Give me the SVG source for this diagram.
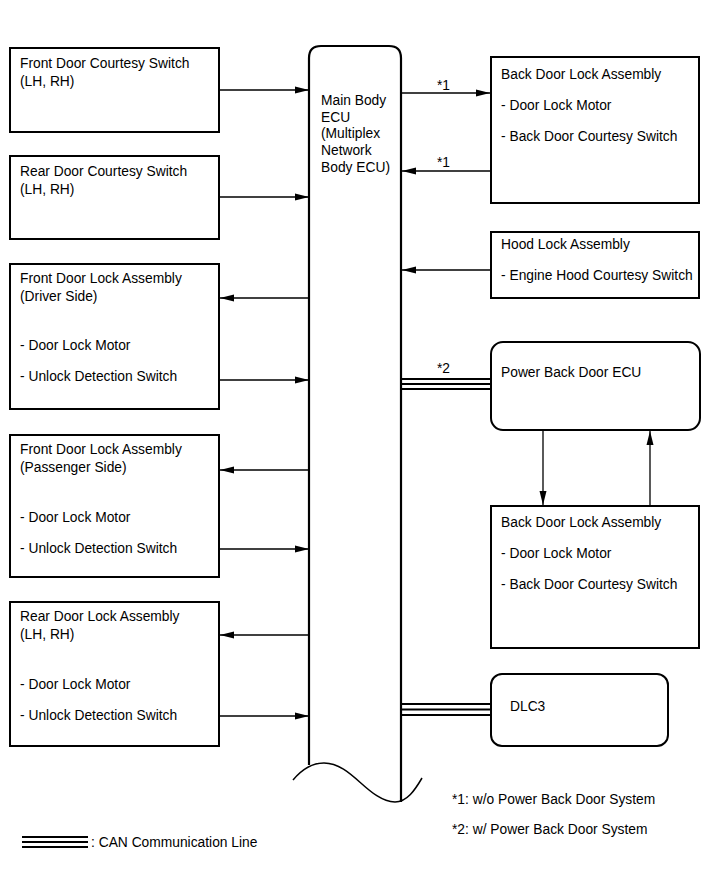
<svg xmlns="http://www.w3.org/2000/svg" width="713" height="882" viewBox="0 0 713 882">
<defs>
<marker id="ah" markerWidth="14" markerHeight="8" refX="14" refY="4" orient="auto" markerUnits="userSpaceOnUse">
<path d="M0,0.5 L14,4 L0,7.5 Z" fill="#000"/>
</marker>
<style>
text{font-family:"Liberation Sans",Arial,sans-serif;font-size:13.8px;fill:#000}
.box{fill:#fff;stroke:#000;stroke-width:2}
.ar{stroke:#000;stroke-width:1.3;fill:none;marker-end:url(#ah)}
.can{stroke:#000;stroke-width:2;fill:none}
</style>
</defs>
<rect width="713" height="882" fill="#fff"/>

<g id="ecu">
<path d="M309,765 L309,58 Q309,46 321,46 L389,46 Q401,46 401,58 L401,802" fill="#fff" stroke="#000" stroke-width="2.2"/>
<path d="M293,780 C303,768 313,763 324,763 C352,763 368,801 395,802 C407,802 415,790 422,778" fill="none" stroke="#000" stroke-width="1.5"/>
<text x="321" y="105">Main Body</text>
<text x="321" y="122">ECU</text>
<text x="321" y="138">(Multiplex</text>
<text x="321" y="155">Network</text>
<text x="321" y="172">Body ECU)</text>
</g>

<g id="fdcs">
<rect class="box" x="10" y="48" width="209" height="84"/>
<text x="20" y="68">Front Door Courtesy Switch</text>
<text x="20" y="86">(LH, RH)</text>
</g>
<g id="rdcs">
<rect class="box" x="10" y="156" width="209" height="83"/>
<text x="20" y="176">Rear Door Courtesy Switch</text>
<text x="20" y="194">(LH, RH)</text>
</g>
<g id="fdla-d">
<rect class="box" x="10" y="264" width="209" height="145"/>
<text x="20" y="283">Front Door Lock Assembly</text>
<text x="20" y="301">(Driver Side)</text>
<text x="20" y="350">- Door Lock Motor</text>
<text x="20" y="381">- Unlock Detection Switch</text>
</g>
<g id="fdla-p">
<rect class="box" x="10" y="435" width="209" height="142"/>
<text x="20" y="454">Front Door Lock Assembly</text>
<text x="20" y="472">(Passenger Side)</text>
<text x="20" y="522">- Door Lock Motor</text>
<text x="20" y="553">- Unlock Detection Switch</text>
</g>
<g id="rdla">
<rect class="box" x="10" y="602" width="209" height="144"/>
<text x="20" y="621">Rear Door Lock Assembly</text>
<text x="20" y="639">(LH, RH)</text>
<text x="20" y="689">- Door Lock Motor</text>
<text x="20" y="720">- Unlock Detection Switch</text>
</g>

<g id="bdla1">
<rect class="box" x="491" y="57" width="208" height="146"/>
<text x="501" y="79">Back Door Lock Assembly</text>
<text x="501" y="110">- Door Lock Motor</text>
<text x="501" y="141">- Back Door Courtesy Switch</text>
</g>
<g id="hla">
<rect class="box" x="491" y="232" width="208" height="66"/>
<text x="501" y="249">Hood Lock Assembly</text>
<text x="501" y="280">- Engine Hood Courtesy Switch</text>
</g>
<g id="pbdecu">
<rect class="box" x="491" y="342" width="209" height="88" rx="12" ry="12"/>
<text x="501" y="377">Power Back Door ECU</text>
</g>
<g id="bdla2">
<rect class="box" x="491" y="506" width="208" height="142"/>
<text x="501" y="527">Back Door Lock Assembly</text>
<text x="501" y="558">- Door Lock Motor</text>
<text x="501" y="589">- Back Door Courtesy Switch</text>
</g>
<g id="dlc3">
<rect class="box" x="491" y="674" width="177" height="72" rx="11" ry="11"/>
<text x="510" y="711">DLC3</text>
</g>

<g id="connectors">
<line class="ar" x1="219" y1="90" x2="309" y2="90"/>
<line class="ar" x1="219" y1="197" x2="309" y2="197"/>
<line class="ar" x1="309" y1="298" x2="220" y2="298"/>
<line class="ar" x1="219" y1="380" x2="309" y2="380"/>
<line class="ar" x1="309" y1="470" x2="220" y2="470"/>
<line class="ar" x1="219" y1="549" x2="309" y2="549"/>
<line class="ar" x1="309" y1="635" x2="220" y2="635"/>
<line class="ar" x1="219" y1="716" x2="309" y2="716"/>
<line class="ar" x1="401" y1="93" x2="490" y2="93"/>
<line class="ar" x1="491" y1="171" x2="402" y2="171"/>
<line class="ar" x1="491" y1="270" x2="402" y2="270"/>
<line class="ar" x1="543" y1="430" x2="543" y2="505"/>
<line class="ar" x1="650" y1="506" x2="650" y2="431"/>
<line class="can" x1="401" y1="379" x2="491" y2="379"/>
<line class="can" x1="401" y1="384" x2="491" y2="384" stroke-width="1.5"/>
<line class="can" x1="401" y1="389" x2="491" y2="389"/>
<line class="can" x1="401" y1="704" x2="491" y2="704"/>
<line class="can" x1="401" y1="709.5" x2="491" y2="709.5" stroke-width="1.5"/>
<line class="can" x1="401" y1="715" x2="491" y2="715"/>
<text x="437" y="90">*1</text>
<text x="437" y="167">*1</text>
<text x="437" y="373">*2</text>
</g>

<g id="notes">
<text x="452" y="804">*1: w/o Power Back Door System</text>
<text x="452" y="834">*2: w/ Power Back Door System</text>
<line class="can" x1="22" y1="837" x2="88" y2="837"/>
<line class="can" x1="22" y1="842" x2="88" y2="842" stroke-width="1.5"/>
<line class="can" x1="22" y1="847" x2="88" y2="847"/>
<text x="91" y="847">: CAN Communication Line</text>
</g>
</svg>
